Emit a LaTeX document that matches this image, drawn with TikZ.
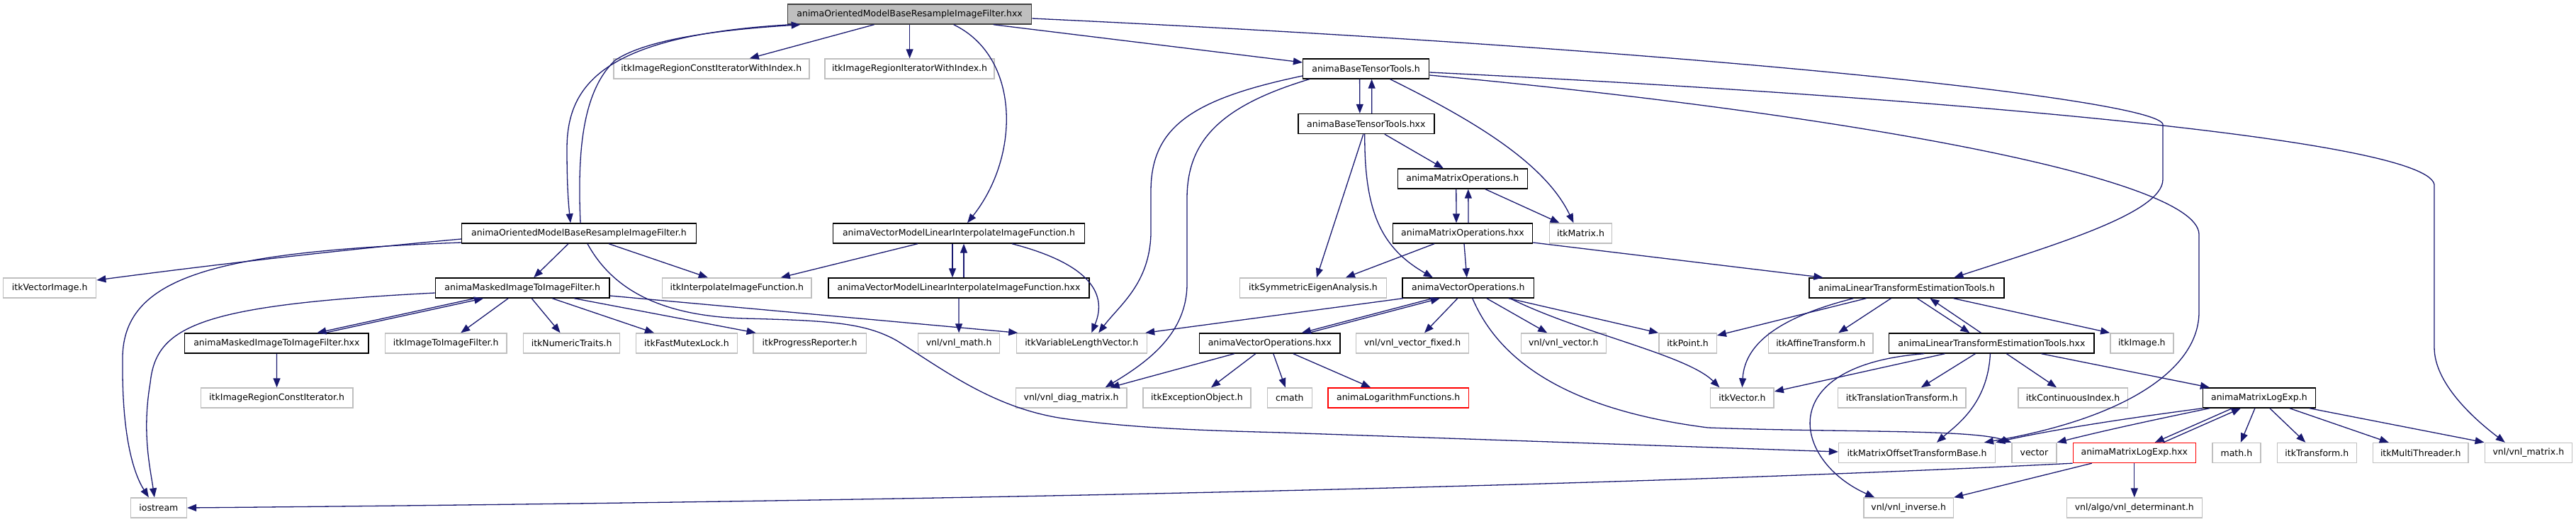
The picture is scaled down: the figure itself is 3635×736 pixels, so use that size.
\documentclass[tikz,border=0pt]{standalone}
\usepackage{fontspec}
\setmainfont{DejaVu Sans}
\usetikzlibrary{arrows.meta}
\definecolor{edgeblue}{RGB}{25, 25, 112}
\definecolor{extgray}{RGB}{191, 191, 191}
\definecolor{rootline}{RGB}{64, 64, 64}

\begin{document}
\begin{tikzpicture}[x=1pt, y=-1pt,
  bx/.style={rectangle, minimum height=28pt, inner sep=0pt, line width=1.4pt,
    font=\fontsize{12.5pt}{14pt}\selectfont, fill=white},
  own/.style={bx, draw=black},
  ext/.style={bx, draw=extgray},
  trunc/.style={bx, draw=red},
  focus/.style={bx, draw=rootline, fill=extgray},
  dep/.style={draw=edgeblue, line width=1.3pt, -{Triangle[length=13pt, width=10pt]}}
]
\useasboundingbox (0,0) rectangle (3635,736);

\node[focus, minimum width=344pt] at (1283.6,20) (root) {animaOrientedModelBaseResampleImageFilter.hxx};

\node[ext, minimum width=276pt] at (1003.8,97) (itkIRCIWI) {itkImageRegionConstIteratorWithIndex.h};
\node[ext, minimum width=239pt] at (1283.6,97) (itkIRIWI)  {itkImageRegionIteratorWithIndex.h};
\node[own, minimum width=178pt] at (1927.6,97) (baseTT)    {animaBaseTensorTools.h};

\node[own, minimum width=192pt] at (1927.8,174.5) (baseTThxx) {animaBaseTensorTools.hxx};
\node[own, minimum width=183pt] at (2063.8,252)   (matOp)     {animaMatrixOperations.h};

\node[own, minimum width=331pt]   at (817,329)    (ombrif)    {animaOrientedModelBaseResampleImageFilter.h};
\node[own, minimum width=354.5pt] at (1353,329)   (vmliif)    {animaVectorModelLinearInterpolateImageFunction.h};
\node[own, minimum width=197pt]   at (2064,329)   (matOphxx)  {animaMatrixOperations.hxx};
\node[ext, minimum width=88pt]    at (2230.5,329) (itkMatrix) {itkMatrix.h};

\node[ext, minimum width=131pt]   at (70.2,406)   (itkVecImg)  {itkVectorImage.h};
\node[own, minimum width=245.5pt] at (737.2,406)  (maskedF)    {animaMaskedImageToImageFilter.h};
\node[ext, minimum width=210.4pt] at (1039.8,406) (itkInterp)  {itkInterpolateImageFunction.h};
\node[own, minimum width=367.7pt] at (1353,406)   (vmliifhxx)  {animaVectorModelLinearInterpolateImageFunction.hxx};
\node[ext, minimum width=207pt]   at (1852.9,406) (itkSymEig)  {itkSymmetricEigenAnalysis.h};
\node[own, minimum width=185.5pt] at (2071.8,406) (vecOp)      {animaVectorOperations.h};
\node[own, minimum width=275pt]   at (2690.4,406) (linTE)      {animaLinearTransformEstimationTools.h};

\node[own, minimum width=259.4pt] at (390.4,484)  (maskedFhxx)   {animaMaskedImageToImageFilter.hxx};
\node[ext, minimum width=171.3pt] at (629.2,484)  (itkImgToImg)  {itkImageToImageFilter.h};
\node[ext, minimum width=136pt]   at (806.6,484)  (itkNumTraits) {itkNumericTraits.h};
\node[ext, minimum width=143pt]   at (969,484)    (itkFastMutex) {itkFastMutexLock.h};
\node[ext, minimum width=159.3pt] at (1142.6,484) (itkProgRep)   {itkProgressReporter.h};
\node[ext, minimum width=114.8pt] at (1353.1,484) (vnlMath)      {vnl/vnl\_math.h};
\node[ext, minimum width=184pt]   at (1526.2,484) (itkVLV)       {itkVariableLengthVector.h};
\node[own, minimum width=198.5pt] at (1791.8,484) (vecOphxx)     {animaVectorOperations.hxx};
\node[ext, minimum width=158.7pt] at (1993,484)   (vnlVecFixed)  {vnl/vnl\_vector\_fixed.h};
\node[ext, minimum width=120pt]   at (2206.2,484) (vnlVector)    {vnl/vnl\_vector.h};
\node[ext, minimum width=81.4pt]  at (2381.5,484) (itkPoint)     {itkPoint.h};
\node[ext, minimum width=147.8pt] at (2569.2,484) (itkAffine)    {itkAffineTransform.h};
\node[own, minimum width=289.4pt] at (2810.4,484) (linTEhxx)     {animaLinearTransformEstimationTools.hxx};
\node[ext, minimum width=89pt]    at (3022.3,484) (itkImage)     {itkImage.h};

\node[ext, minimum width=214.8pt]  at (390.6,561)  (itkIRCI)    {itkImageRegionConstIterator.h};
\node[ext, minimum width=156.4pt]  at (1511.6,561) (vnlDiag)    {vnl/vnl\_diag\_matrix.h};
\node[ext, minimum width=151.8pt]  at (1689,561)   (itkExcObj)  {itkExceptionObject.h};
\node[ext, minimum width=63.2pt]   at (1819.8,561) (cmath)      {cmath};
\node[trunc, minimum width=198.4pt] at (1973.1,561) (logFun)    {animaLogarithmFunctions.h};
\node[ext, minimum width=89.5pt]   at (2458.4,561) (itkVector)  {itkVector.h};
\node[ext, minimum width=180.2pt]  at (2683.8,561) (itkTransl)  {itkTranslationTransform.h};
\node[ext, minimum width=154.4pt]  at (2925,561)   (itkContIdx) {itkContinuousIndex.h};
\node[own, minimum width=158.8pt]  at (3187.9,561) (logExp)     {animaMatrixLogExp.h};

\node[ext, minimum width=221pt]     at (2705,638.5)   (itkMOTB)      {itkMatrixOffsetTransformBase.h};
\node[ext, minimum width=63.1pt]    at (2870.4,638.5) (vector)       {vector};
\node[trunc, minimum width=173.2pt] at (3011.8,638.5) (logExphxx)    {animaMatrixLogExp.hxx};
\node[ext, minimum width=68pt]      at (3155.9,638.5) (mathh)        {math.h};
\node[ext, minimum width=111.8pt]   at (3269.3,638.5) (itkTransform) {itkTransform.h};
\node[ext, minimum width=134.8pt]   at (3415.7,638.5) (itkMultiThr)  {itkMultiThreader.h};
\node[ext, minimum width=123.1pt]   at (3567.8,638.5) (vnlMatrix)    {vnl/vnl\_matrix.h};

\node[ext, minimum width=79pt]    at (223.9,716)  (iostream)   {iostream};
\node[ext, minimum width=126.5pt] at (2693.2,716) (vnlInverse) {vnl/vnl\_inverse.h};
\node[ext, minimum width=191.1pt] at (3011.8,716) (vnlDet)     {vnl/algo/vnl\_determinant.h};

\draw[dep] ([xshift=-168pt]root.south) .. controls (850,50) and (800,120) .. (800,210)
  .. controls (800,270) and (803,295) .. ([xshift=-12pt]ombrif.north);
\draw[dep] ([xshift=2pt]ombrif.north) .. controls (815,220) and (820,130) .. (868,85)
  .. controls (920,50) and (1050,40) .. ([xshift=-154pt]root.south);
\draw[dep] ([xshift=-50pt]root.south) -- ([xshift=54pt]itkIRCIWI.north);
\draw[dep] (root.south) -- (itkIRIWI.north);
\draw[dep] ([xshift=62pt]root.south) .. controls (1440,80) and (1440,220) .. ([xshift=12pt]vmliif.north);
\draw[dep] ([xshift=118pt]root.south) -- ([yshift=9pt]baseTT.west);
\draw[dep] ([yshift=-6pt]root.east) .. controls (2400,70) and (3040,140) .. (3052,175) -- (3052,253)
  .. controls (3052,300) and (2900,345) .. ([xshift=67pt]linTE.north);

\draw[dep] ([xshift=-15pt]ombrif.south) -- ([xshift=16pt]maskedF.north);
\draw[dep] ([xshift=42pt]ombrif.south) -- ([xshift=-41pt]itkInterp.north);
\draw[dep] ([yshift=-8pt]ombrif.west) .. controls (450,355) and (250,380) .. ([yshift=11pt]itkVecImg.east);
\draw[dep] ([yshift=-13pt]ombrif.west) .. controls (300,355) and (170,390) .. (173,510)
  .. controls (172,620) and (190,670) .. ([xshift=-14pt]iostream.north);
\draw[dep] ([xshift=12pt]ombrif.south) .. controls (860,400) and (920,445) .. (1050,449)
  .. controls (1170,452) and (1220,455) .. (1265,480)
  .. controls (1330,520) and (1400,575) .. (1500,590)
  .. controls (1600,604) and (1700,607) .. (1810,610) -- ([yshift=1.5pt]itkMOTB.west);

\draw[dep] ([yshift=-7pt]maskedF.west) .. controls (280,430) and (220,460) .. (212,540)
  .. controls (200,610) and (212,660) .. ([xshift=-6pt]iostream.north);
\draw[dep] ([xshift=-67pt]maskedF.south) -- ([xshift=57pt]maskedFhxx.north);
\draw[dep] ([xshift=68pt]maskedFhxx.north) -- ([xshift=-55pt]maskedF.south);
\draw[dep] ([xshift=-20pt]maskedF.south) -- ([xshift=21pt]itkImgToImg.north);
\draw[dep] ([xshift=13pt]maskedF.south) -- ([xshift=-16pt]itkNumTraits.north);
\draw[dep] ([xshift=42pt]maskedF.south) -- ([xshift=-46pt]itkFastMutex.north);
\draw[dep] ([xshift=73pt]maskedF.south) -- ([xshift=-76pt]itkProgRep.north);
\draw[dep] ([yshift=-11pt]maskedF.east) -- ([xshift=-90pt]itkVLV.north);
\draw[dep] (maskedFhxx.south) -- (itkIRCI.north);

\draw[dep] ([xshift=-9pt]vmliif.south) -- ([xshift=-9pt]vmliifhxx.north);
\draw[dep] ([xshift=7pt]vmliifhxx.north) -- ([xshift=7pt]vmliif.south);
\draw[dep] ([xshift=-58pt]vmliif.south) -- ([xshift=62pt]itkInterp.north);
\draw[dep] ([xshift=75pt]vmliif.south) .. controls (1530,370) and (1565,410) .. ([xshift=14pt]itkVLV.north);
\draw[dep] (vmliifhxx.south) -- (vnlMath.north);

\draw[dep] ([xshift=-9pt]baseTT.south) -- ([xshift=-9pt]baseTThxx.north);
\draw[dep] ([xshift=8pt]baseTThxx.north) -- ([xshift=8pt]baseTT.south);
\draw[dep] ([xshift=34pt]baseTT.south) .. controls (2080,170) and (2180,230) .. ([xshift=-10pt]itkMatrix.north);
\draw[dep] ([yshift=-10pt]baseTT.west) .. controls (1680,140) and (1624,180) .. (1624,270) -- (1624,330)
  .. controls (1622,400) and (1580,430) .. ([xshift=24pt]itkVLV.north);
\draw[dep] ([xshift=-80pt]baseTT.south) .. controls (1720,150) and (1675,200) .. (1675,280) -- (1675,400)
  .. controls (1675,470) and (1620,510) .. ([xshift=48pt]vnlDiag.north);
\draw[dep] ([yshift=-5pt]baseTT.east) .. controls (2600,130) and (3420,190) .. (3435,260) -- (3435,490)
  .. controls (3435,540) and (3490,590) .. ([xshift=-33pt]vnlMatrix.north);
\draw[dep] ([yshift=-9pt]baseTT.east) .. controls (2600,160) and (3100,250) .. (3103,330) -- (3103,440)
  .. controls (3103,520) and (3000,590) .. ([xshift=95pt]itkMOTB.north);

\draw[dep] ([xshift=26pt]baseTThxx.south) -- ([xshift=-27pt]matOp.north);
\draw[dep] ([xshift=-4pt]baseTThxx.south) -- ([xshift=5pt]itkSymEig.north);
\draw[dep] ([xshift=-2pt]baseTThxx.south) .. controls (1925,300) and (1950,350) .. ([xshift=-50pt]vecOp.north);

\draw[dep] ([xshift=-9pt]matOp.south) -- ([xshift=-9pt]matOphxx.north);
\draw[dep] ([xshift=8pt]matOphxx.north) -- ([xshift=8pt]matOp.south);
\draw[dep] ([xshift=32pt]matOp.south) -- ([xshift=-30pt]itkMatrix.north);
\draw[dep] ([xshift=-40pt]matOphxx.south) -- ([xshift=46pt]itkSymEig.north);
\draw[dep] ([xshift=2pt]matOphxx.south) -- ([xshift=-2pt]vecOp.north);
\draw[dep] ([yshift=-13pt]matOphxx.east) -- ([xshift=-118pt]linTE.north);

\draw[dep] ([xshift=-50pt]vecOp.south) -- ([xshift=45pt]vecOphxx.north);
\draw[dep] ([xshift=55pt]vecOphxx.north) -- ([xshift=-40pt]vecOp.south);
\draw[dep] ([xshift=-92pt]vecOp.south) -- ([xshift=90pt]itkVLV.north);
\draw[dep] ([xshift=-15pt]vecOp.south) -- ([xshift=17pt]vnlVecFixed.north);
\draw[dep] ([xshift=26pt]vecOp.south) -- ([xshift=-23pt]vnlVector.north);
\draw[dep] ([xshift=57pt]vecOp.south) -- (itkPoint.north west);
\draw[dep] ([xshift=59pt]vecOp.south) .. controls (2230,470) and (2380,500) .. ([xshift=-32pt]itkVector.north);
\draw[dep] ([xshift=6pt]vecOp.south) .. controls (2120,520) and (2230,580) .. (2410,603)
  .. controls (2600,610) and (2780,605) .. (vector.north west);

\draw[dep] ([xshift=-50pt]vecOphxx.south) -- ([xshift=55pt]vnlDiag.north);
\draw[dep] ([xshift=-20pt]vecOphxx.south) -- ([xshift=20pt]itkExcObj.north);
\draw[dep] ([xshift=5pt]vecOphxx.south) -- ([xshift=-6pt]cmath.north);
\draw[dep] ([xshift=33pt]vecOphxx.south) -- ([xshift=-39pt]logFun.north);

\draw[dep] ([xshift=15pt]linTE.south) -- ([xshift=-31pt]linTEhxx.north);
\draw[dep] ([xshift=-15pt]linTEhxx.north) -- ([xshift=33pt]linTE.south);
\draw[dep] ([xshift=-57pt]linTE.south) -- ([yshift=11pt]itkPoint.east);
\draw[dep] ([xshift=-75pt]linTE.south) .. controls (2520,445) and (2462,480) .. (itkVector.north);
\draw[dep] ([xshift=-22pt]linTE.south) -- ([xshift=25pt]itkAffine.north);
\draw[dep] ([xshift=66pt]linTE.south) -- (itkImage.north west);

\draw[dep] ([xshift=-66pt]linTEhxx.south) -- ([yshift=9pt]itkVector.east);
\draw[dep] ([xshift=-95pt]linTEhxx.south) .. controls (2500,515) and (2530,650) .. ([xshift=-48pt]vnlInverse.north);
\draw[dep] ([xshift=-23pt]linTEhxx.south) -- ([xshift=27pt]itkTransl.north);
\draw[dep] ([xshift=-2pt]linTEhxx.south) .. controls (2805,570) and (2760,600) .. ([xshift=28pt]itkMOTB.north);
\draw[dep] ([xshift=21pt]linTEhxx.south) -- ([xshift=-23pt]itkContIdx.north);
\draw[dep] ([xshift=70pt]linTEhxx.south) -- ([xshift=-70pt]logExp.north);

\draw[dep] ([xshift=-38pt]logExp.south) -- ([xshift=29pt]logExphxx.north);
\draw[dep] ([xshift=41pt]logExphxx.north) -- ([xshift=-26pt]logExp.south);
\draw[dep] ([xshift=-6pt]logExp.south) -- ([xshift=6pt]mathh.north);
\draw[dep] ([xshift=15pt]logExp.south) -- ([xshift=-16pt]itkTransform.north);
\draw[dep] ([xshift=43pt]logExp.south) -- ([xshift=-45pt]itkMultiThr.north);
\draw[dep] ([xshift=71pt]logExp.south) -- (vnlMatrix.north west);
\draw[dep] (logExp.south west) .. controls (3000,590) and (2900,605) .. (itkMOTB.north east);
\draw[dep] ([xshift=-70pt]logExp.south) .. controls (3000,600) and (2950,612) .. (vector.north east);

\draw[dep] (logExphxx.south west) .. controls (2400,680) and (1500,705) .. (iostream.east);
\draw[dep] ([xshift=-60pt]logExphxx.south) -- (vnlInverse.north east);
\draw[dep] (logExphxx.south) -- (vnlDet.north);
\end{tikzpicture}
\end{document}
